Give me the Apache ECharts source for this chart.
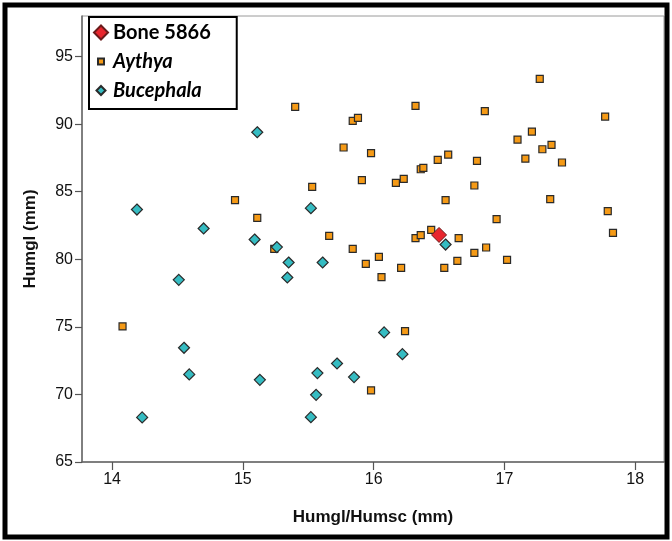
<!DOCTYPE html>
<html>
<head>
<meta charset="utf-8">
<script src="https://cdn.jsdelivr.net/npm/echarts@6/dist/echarts.min.js"></script>
<style>
  html, body { margin: 0; padding: 0; background: #fff; }
  #main { width: 672px; height: 541px; }
</style>
</head>
<body>
<div id="main"></div>
<script>
// values: [Humgl/Humsc, Humgl]
var bone = [[16.50, 81.8]];

var aythya = [
  [14.08, 75.03], [14.94, 84.37], [15.11, 83.06], [15.24, 80.77], [15.40, 91.27],
  [15.53, 85.36], [15.66, 81.73], [15.77, 88.27], [15.84, 90.24], [15.88, 90.46],
  [15.84, 80.77], [15.91, 85.85], [15.94, 79.66], [15.98, 87.85], [15.98, 70.30],
  [16.04, 80.18], [16.06, 78.68], [16.17, 85.65], [16.21, 79.37], [16.23, 85.95],
  [16.24, 74.68], [16.32, 91.35], [16.32, 81.56], [16.36, 81.78], [16.36, 86.66],
  [16.38, 86.76], [16.44, 82.17], [16.49, 87.35], [16.54, 79.37], [16.55, 84.37],
  [16.57, 87.75], [16.64, 79.88], [16.65, 81.56], [16.77, 85.46], [16.77, 80.47],
  [16.79, 87.28], [16.85, 90.96], [16.86, 80.87], [16.94, 82.97], [17.02, 79.96],
  [17.10, 88.86], [17.16, 87.45], [17.21, 89.45], [17.27, 93.35], [17.29, 88.14],
  [17.35, 84.45], [17.36, 88.46], [17.44, 87.16], [17.77, 90.56], [17.79, 83.56],
  [17.83, 81.95]
];

var bucephala = [
  [14.19, 83.68], [14.23, 68.30], [14.51, 78.48], [14.55, 73.45], [14.59, 71.48],
  [14.70, 82.28], [15.09, 81.46], [15.11, 89.40], [15.13, 71.08], [15.26, 80.90],
  [15.34, 78.65], [15.35, 79.76], [15.52, 83.78], [15.52, 68.32], [15.56, 69.97],
  [15.57, 71.58], [15.61, 79.76], [15.72, 72.29], [15.85, 71.28], [16.08, 74.59],
  [16.22, 72.98], [16.55, 81.09]
];

var xTicks = [14, 15, 16, 17, 18];
var yTicks = [65, 70, 75, 80, 85, 90, 95];

var chart = echarts.init(document.getElementById('main'));

var tickFont = { fontFamily: 'Liberation Sans', fontSize: 16, color: '#111' };

// legend icons drawn smaller inside a 0..14 box (corner points only set the box)
var smallSquare = 'path://M0,0L0,0M4,4L10,4L10,10L4,10ZM14,14L14,14';
var smallDiamond = 'path://M0,0L0,0M7,2.5L11.5,7L7,11.5L2.5,7ZM14,14L14,14';

chart.setOption({
  backgroundColor: '#fff',
  animation: false,
  graphic: [{
    type: 'rect',
    shape: { x: 5, y: 5, width: 662, height: 532 },
    style: { fill: 'none', stroke: '#000', lineWidth: 5 },
    z: 100
  }],
  grid: {
    left: 82, top: 16, right: 8, bottom: 79,
    show: true, borderColor: '#9a9a9a', borderWidth: 1
  },
  legend: {
    orient: 'vertical',
    left: 89, top: 17,
    padding: [5, 26, 8, 4],
    itemWidth: 14, itemHeight: 14, itemGap: 8,
    borderColor: '#000', borderWidth: 2, backgroundColor: '#fff',
    textStyle: { fontFamily: 'Lato', fontSize: 20, fontWeight: 'bold', color: '#000', lineHeight: 21 },
    data: [
      { name: 'Bone 5866', icon: 'diamond' },
      { name: 'Aythya', icon: smallSquare, textStyle: { fontStyle: 'italic' } },
      { name: 'Bucephala', icon: smallDiamond, textStyle: { fontStyle: 'italic' } }
    ]
  },
  xAxis: {
    type: 'value', min: 13.77, max: 18.22,
    name: 'Humgl/Humsc (mm)', nameLocation: 'middle', nameGap: 47,
    nameTextStyle: { fontFamily: 'Liberation Sans', fontSize: 17, fontWeight: 'bold', color: '#111' },
    axisLine: { show: true, onZero: false, lineStyle: { color: '#666', width: 1.5 } },
    axisTick: { show: true, inside: false, length: 8, lineStyle: { color: '#555', width: 1.2 }, customValues: xTicks },
    axisLabel: Object.assign({ margin: 10, customValues: xTicks }, tickFont),
    splitLine: { show: false }
  },
  yAxis: {
    type: 'value', min: 65, max: 98,
    name: 'Humgl (mm)', nameLocation: 'middle', nameGap: 43,
    nameTextStyle: { fontFamily: 'Liberation Sans', fontSize: 17, fontWeight: 'bold', color: '#111' },
    axisLine: { show: true, onZero: false, lineStyle: { color: '#666', width: 1.5 } },
    axisTick: { show: true, inside: false, length: 7, lineStyle: { color: '#555', width: 1.2 }, customValues: yTicks },
    axisLabel: Object.assign({ margin: 9, customValues: yTicks }, tickFont),
    splitLine: { show: false }
  },
  series: [
    {
      name: 'Aythya', type: 'scatter', data: aythya, symbol: 'rect', symbolSize: 7,
      itemStyle: { color: '#f59a16', borderColor: '#2a2a2a', borderWidth: 1.2, opacity: 1 }, z: 2
    },
    {
      name: 'Bucephala', type: 'scatter', data: bucephala, symbol: 'diamond', symbolSize: 11,
      itemStyle: { color: '#35bcc2', borderColor: '#2a2a2a', borderWidth: 1.2, opacity: 1 }, z: 3
    },
    {
      name: 'Bone 5866', type: 'scatter', data: bone, symbol: 'diamond', symbolSize: 15,
      itemStyle: { color: '#e8262e', borderColor: '#6a1a1a', borderWidth: 1, opacity: 1 }, z: 4
    }
  ]
});
</script>
</body>
</html>
